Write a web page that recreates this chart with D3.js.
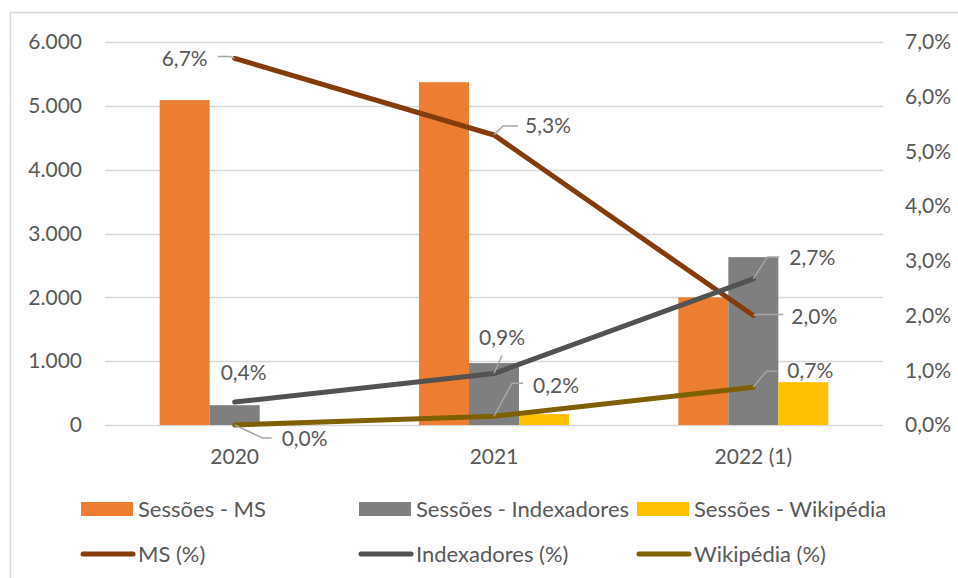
<!DOCTYPE html>
<html>
<head>
<meta charset="utf-8">
<script src="https://cdn.jsdelivr.net/npm/d3@7"></script>
<style>
  body { margin: 0; background: #fff; }
  text { font-family: Lato, "Open Sans", sans-serif; fill: #595959; }
</style>
</head>
<body>
<div id="chart"></div>
<script>
var width = 958, height = 578;

// data
var categories = ["2020", "2021", "2022 (1)"];
var sessoesMS = [5090, 5370, 2000];
var sessoesIndexadores = [310, 970, 2630];
var sessoesWikipedia = [0, 170, 670];
var pctMS = [0.067, 0.053, 0.020];
var pctIndexadores = [0.0042, 0.0094, 0.0267];
var pctWikipedia = [0.0000, 0.0016, 0.0069];
var leftTicks = [0, 1000, 2000, 3000, 4000, 5000, 6000];
var rightTicks = [0, 0.01, 0.02, 0.03, 0.04, 0.05, 0.06, 0.07];

var barSeries = [
  {name: "Sessões - MS", values: sessoesMS, color: "#ED7D31"},
  {name: "Sessões - Indexadores", values: sessoesIndexadores, color: "#7F7F7F"},
  {name: "Sessões - Wikipédia", values: sessoesWikipedia, color: "#FFC000"}
];
var lineSeries = [
  {name: "MS (%)", values: pctMS, color: "#843C0C"},
  {name: "Indexadores (%)", values: pctIndexadores, color: "#525252"},
  {name: "Wikipédia (%)", values: pctWikipedia, color: "#7F6000"}
];

// label placement per line point: text anchor point + leader path (relative to point)
var labelPlacement = [
  [ {x: -27, y: 0, anchor: "end", leader: [[0, 0], [-5, -2], [-17, -2]]},
    {x: 31, y: -9, anchor: "start", leader: [[0, 0], [9, -9], [24, -9]]},
    {x: 38, y: 1, anchor: "start", leader: [[0, 0], [3, -1], [30, -1]]} ],
  [ {x: 9, y: -29, anchor: "middle", leader: null},
    {x: 8, y: -36, anchor: "middle", leader: [[0, 0], [8, -18]]},
    {x: 36, y: -21, anchor: "start", leader: [[0, 0], [14, -22], [26, -22]]} ],
  [ {x: 47, y: 14, anchor: "start", leader: [[0, 0], [28, 13], [37, 13]]},
    {x: 39, y: -31, anchor: "start", leader: [[0, 0], [18, -33], [29, -33]]},
    {x: 34, y: -17, anchor: "start", leader: [[0, 0], [13, -16], [24, -16]]} ]
];

var margin = {top: 42, right: 75, bottom: 153, left: 105};
var plotW = width - margin.left - margin.right,
    plotH = height - margin.top - margin.bottom;

var svg = d3.select("#chart")
            .append("svg")
              .attr("width", width)
              .attr("height", height);

// chart border (cropped at right and bottom)
svg.append("path")
   .attr("d", "M10.5," + (height + 2) + "V12.5H" + (width + 2))
   .attr("fill", "none")
   .attr("stroke", "#D9D9D9")
   .attr("stroke-width", 1.5);

var chart = svg.append("g")
               .attr("transform", "translate(" + margin.left + "," + margin.top + ")");

// scales
var x = d3.scaleBand()
          .domain(categories)
          .range([0, plotW]);

var xInner = d3.scaleBand()
               .domain(barSeries.map(function(d) { return d.name; }))
               .range([0, 150]);

var yLeft = d3.scaleLinear()
              .domain([0, 6000])
              .range([plotH, 0]);

var yRight = d3.scaleLinear()
               .domain([0, 0.07])
               .range([plotH, 0]);

var fmtLeft = function(d) { return d3.format(",")(d).replace(/,/g, "."); };
var fmtPct = function(d) { return d3.format(".1%")(d).replace(".", ","); };

// gridlines
chart.selectAll(".grid")
  .data(leftTicks)
.enter().append("line")
  .attr("class", "grid")
  .attr("x1", 0)
  .attr("x2", plotW)
  .attr("y1", function(d) { return Math.round(yLeft(d)) + 0.5; })
  .attr("y2", function(d) { return Math.round(yLeft(d)) + 0.5; })
  .attr("stroke", "#D9D9D9")
  .attr("stroke-width", 1.5);

// left axis
var yAxisLeft = d3.axisLeft(yLeft).tickValues(leftTicks).tickFormat(fmtLeft).tickSize(0).tickPadding(23);
chart.append("g")
     .attr("class", "axis")
     .call(yAxisLeft)
     .call(function(g) { g.select(".domain").remove(); })
     .selectAll("text")
       .style("font-size", "21px")
       .attr("fill", "#595959");

// right axis
var yAxisRight = d3.axisRight(yRight).tickValues(rightTicks).tickFormat(fmtPct).tickSize(0).tickPadding(22);
chart.append("g")
     .attr("class", "axis")
     .attr("transform", "translate(" + plotW + ",0)")
     .call(yAxisRight)
     .call(function(g) { g.select(".domain").remove(); })
     .selectAll("text")
       .style("font-size", "21px")
       .attr("fill", "#595959");

// x axis labels
chart.selectAll(".xlabel")
  .data(categories)
.enter().append("text")
  .attr("class", "xlabel")
  .attr("x", function(d) { return x(d) + x.bandwidth() / 2; })
  .attr("y", plotH + 39)
  .attr("text-anchor", "middle")
  .style("font-size", "21px")
  .text(function(d) { return d; });

// bars
var groups = chart.selectAll(".cat")
  .data(categories)
.enter().append("g")
  .attr("class", "cat")
  .attr("transform", function(d) { return "translate(" + (x(d) + x.bandwidth() / 2 - 75) + ",0)"; });

groups.selectAll("rect")
  .data(function(d, i) {
    return barSeries.map(function(s) { return {name: s.name, value: s.values[i], color: s.color}; });
  })
.enter().append("rect")
  .attr("x", function(d) { return xInner(d.name); })
  .attr("width", xInner.bandwidth())
  .attr("y", function(d) { return yLeft(d.value); })
  .attr("height", function(d) { return plotH - yLeft(d.value); })
  .attr("fill", function(d) { return d.color; });

// lines
var line = d3.line()
             .x(function(d, i) { return x(categories[i]) + x.bandwidth() / 2; })
             .y(function(d) { return yRight(d); });

lineSeries.forEach(function(s, si) {
  chart.append("path")
       .datum(s.values)
       .attr("d", line)
       .attr("fill", "none")
       .attr("stroke", s.color)
       .attr("stroke-width", 5)
       .attr("stroke-linejoin", "round")
       .attr("stroke-linecap", "round");

  // data labels
  s.values.forEach(function(v, i) {
    var px = x(categories[i]) + x.bandwidth() / 2,
        py = yRight(v),
        lp = labelPlacement[si][i];

    if (lp.leader) {
      chart.append("path")
           .attr("d", d3.line()(lp.leader.map(function(p) { return [px + p[0], py + p[1]]; })))
           .attr("fill", "none")
           .attr("stroke", "#A6A6A6")
           .attr("stroke-width", 1.5);
    }

    chart.append("text")
         .attr("x", px + lp.x)
         .attr("y", py + lp.y)
         .attr("dy", "0.35em")
         .attr("text-anchor", lp.anchor)
         .style("font-size", "21px")
         .attr("fill", "#404040")
         .text(fmtPct(v));
  });
});

// legend
var legendX = [81, 359, 637];

barSeries.forEach(function(s, i) {
  svg.append("rect")
     .attr("x", legendX[i])
     .attr("y", 502)
     .attr("width", 52)
     .attr("height", 14)
     .attr("fill", s.color);
  svg.append("text")
     .attr("x", legendX[i] + 57)
     .attr("y", 509)
     .attr("dy", "0.35em")
     .style("font-size", "22px")
     .text(s.name);
});

lineSeries.forEach(function(s, i) {
  svg.append("line")
     .attr("x1", legendX[i] + 2)
     .attr("x2", legendX[i] + 52)
     .attr("y1", 554)
     .attr("y2", 554)
     .attr("stroke", s.color)
     .attr("stroke-width", 5)
     .attr("stroke-linecap", "round");
  svg.append("text")
     .attr("x", legendX[i] + 57)
     .attr("y", 554)
     .attr("dy", "0.35em")
     .style("font-size", "22px")
     .text(s.name);
});
</script>
</body>
</html>
